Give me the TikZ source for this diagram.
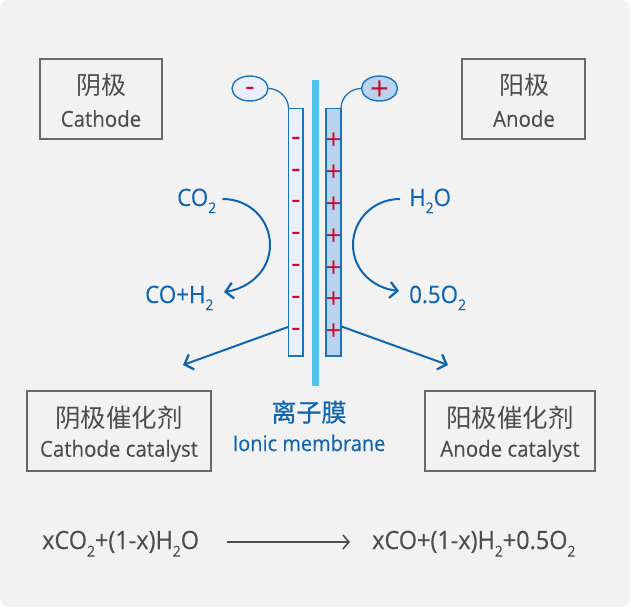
\documentclass[tikz,border=0pt]{standalone}
\usepackage{fontspec}
\setmainfont[FakeStretch=0.93,FakeBold=0.25]{Open Sans}
\newfontfamily\cjk{Noto Sans CJK SC}
\newfontfamily\cjkm[FakeBold=0.6]{Noto Sans CJK SC}
\newfontfamily\markf{Open Sans}
\usetikzlibrary{arrows.meta,shapes.geometric}
\definecolor{bgc}{HTML}{F2F2F2}
\definecolor{blu}{HTML}{0F65B0}
\definecolor{edge}{HTML}{1B75BC}
\definecolor{grayt}{HTML}{4D4D4D}
\definecolor{sky}{HTML}{50C3F2}
\definecolor{pale}{HTML}{EAEFF9}
\definecolor{mid}{HTML}{B9D3EF}
\definecolor{redm}{HTML}{C8102E}
\newcommand{\subt}[1]{\raisebox{-0.3em}{\fontsize{15}{15}\selectfont #1}}
\tikzset{
  x=1pt,y=-1pt,
  lab/.style={inner sep=0pt,align=center,text=grayt},
  boxn/.style={draw=grayt!85,line width=1.2pt,fill=bgc},
  chem/.style={inner sep=0pt,text=blu,font=\fontsize{24}{26}\selectfont},
  formula/.style={inner sep=0pt,text=grayt,font=\fontsize{25.2}{26}\selectfont},
  flow/.style={draw=blu,line width=2pt,-{Straight Barb[length=7.5pt,width=16pt,line width=2.3pt]}},
  wire/.style={draw=edge,line width=1.3pt},
  elec/.style={draw=edge,line width=1.4pt},
  term/.style={draw=edge,line width=1.4pt,ellipse,minimum width=36pt,minimum height=25pt,inner sep=0pt},
  minusm/.style={text=redm,inner sep=0pt,anchor=base,font=\markf\fontsize{30}{30}\selectfont},
  plusm/.style={text=redm,inner sep=0pt,anchor=base,font=\markf\fontsize{28}{28}\selectfont},
}
\begin{document}
\begin{tikzpicture}
\useasboundingbox (0,0) rectangle (631,609);
\fill[white] (0,0) rectangle (631,609);
\fill[bgc,rounded corners=9pt] (0,0) rectangle (630,607);
% boxes
\draw[boxn] (40,59) rectangle (162,139);
\draw[boxn] (462,59) rectangle (585,139);
\draw[boxn] (27,391) rectangle (211,471);
\draw[boxn] (425,391) rectangle (595,471);
\node[lab,font=\cjk\fontsize{25}{25}\selectfont] (cn1) at (101,85) {阴极};
\node[lab,font=\fontsize{22}{24}\selectfont] (ct1) at (101,118.5) {Cathode};
\node[lab,font=\cjk\fontsize{25}{25}\selectfont] (cn2) at (524,85) {阳极};
\node[lab,font=\fontsize{22}{24}\selectfont] (ct2) at (524,118.5) {Anode};
\node[lab,font=\cjk\fontsize{25.5}{26}\selectfont] (cn3) at (119,418) {阴极催化剂};
\node[lab,font=\fontsize{22}{24}\selectfont] (ct3) at (119,451) {Cathode catalyst};
\node[lab,font=\cjk\fontsize{25.5}{26}\selectfont] (cn4) at (510,418) {阳极催化剂};
\node[lab,font=\fontsize{22}{24}\selectfont] (ct4) at (510,451) {Anode catalyst};
% membrane and electrodes
\fill[sky] (311.5,80) rectangle (319,386);
\draw[elec,fill=pale] (288.5,108.5) rectangle (303,356);
\draw[elec,fill=mid] (326,108.5) rectangle (341,356);
% terminals
\node[term,fill=pale] (neg) at (250,88.5) {};
\node[term,fill=mid] (pos) at (379.5,88.5) {};
\coordinate (negtop) at (288.5,108.5);
\coordinate (postop) at (341,108.5);
\draw[wire] (neg.east) .. controls (277,88.5) and (288.5,96) .. (negtop);
\draw[wire] (pos.west) .. controls (352,88.5) and (341,96) .. (postop);
\node[minusm] at (250,97) {-};
\node[text=redm,inner sep=0pt,anchor=base,font=\markf\fontsize{33}{33}\selectfont] at (379.5,101) {+};
\foreach \y in {138,170,201,233,265,297,329} \node[minusm] at (296,\y+8.8) {-};
\foreach \y in {139,171,203,235,267,298,330} \node[plusm] at (333.5,\y+10.5) {+};
% chemistry
\node[chem,anchor=base west] (co2) at (177,206) {CO\subt{2}};
\node[chem,anchor=base west] (coh) at (145,303) {CO+H\subt{2}};
\node[chem,anchor=base west] (h2o) at (409,206) {H\subt{2}O};
\node[chem,anchor=base west] (o2) at (409,303) {0.5O\subt{2}};
\coordinate (a1) at (222.5,199);
\coordinate (a2) at (224,292);
\coordinate (b1) at (400,199);
\coordinate (b2) at (399,291);
\draw[flow] (a1) .. controls (250,199) and (270,220) .. (270,245) .. controls (270,270) and (250,288) .. (a2);
\draw[flow] (b1) .. controls (373,199) and (353,220) .. (353,245) .. controls (353,270) and (373,288) .. (b2);
\coordinate (c1) at (288,327);
\coordinate (c2) at (183,365);
\coordinate (d1) at (341.5,326.5);
\coordinate (d2) at (448,365);
\draw[flow] (c1) -- (c2);
\draw[flow] (d1) -- (d2);
% membrane label
\node[chem,font=\cjkm\fontsize{25}{25}\selectfont] (mz) at (309,412) {离子膜};
\node[chem,font=\fontsize{21.5}{24}\selectfont] (me) at (309,443) {Ionic membrane};
% formula
\node[formula,anchor=base west] (lhs) at (42,549) {xCO\subt{2}+(1-x)H\subt{2}O};
\node[formula,anchor=base west] (rhs) at (372,549) {xCO+(1-x)H\subt{2}+0.5O\subt{2}};
\coordinate (f1) at (227,542);
\coordinate (f2) at (350,542);
\draw[draw=grayt,line width=1.4pt,-{Straight Barb[length=6pt,width=14pt,line width=1.6pt]}] (f1) -- (f2);
\end{tikzpicture}
\end{document}
